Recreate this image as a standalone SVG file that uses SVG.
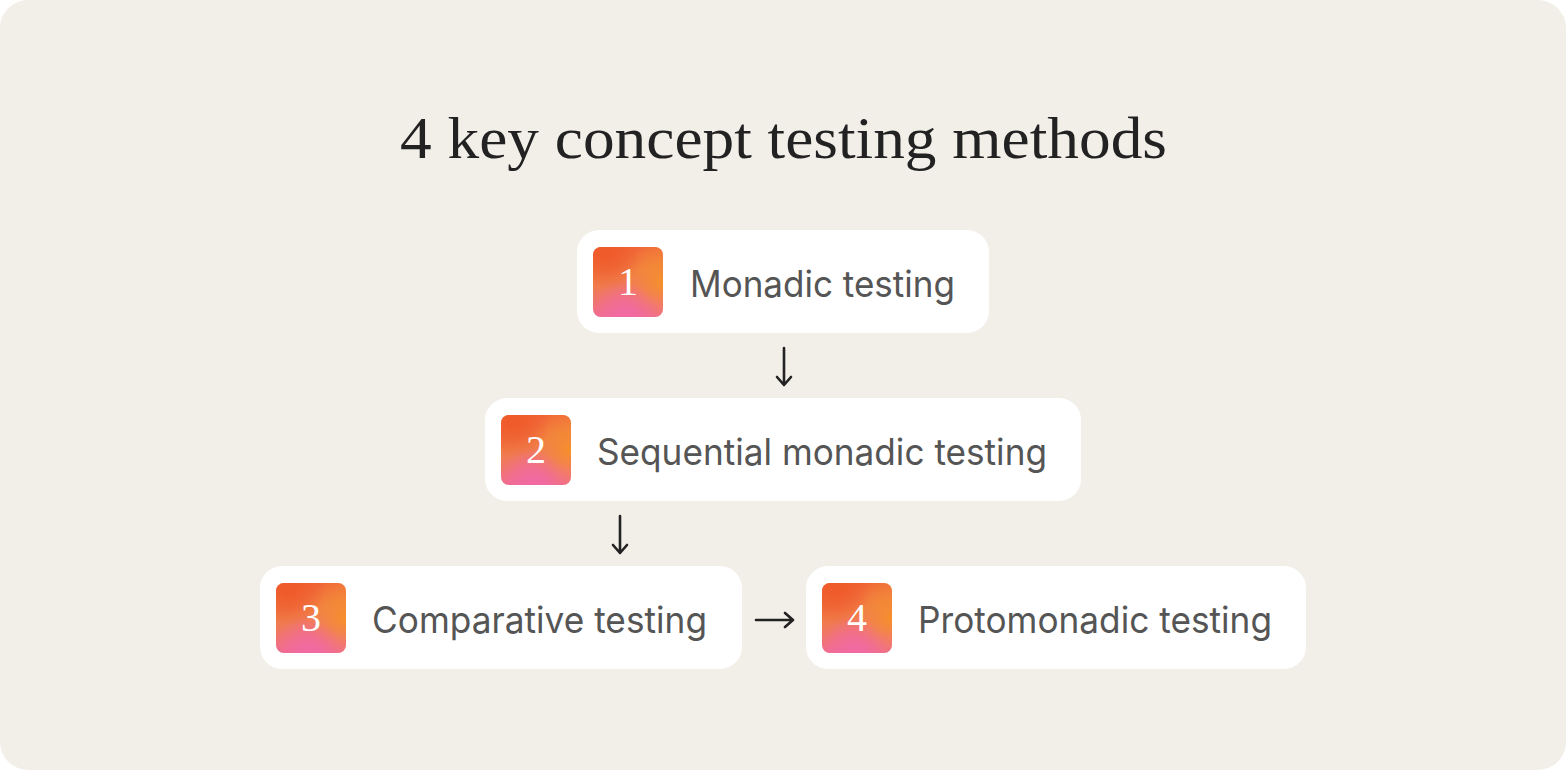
<svg xmlns="http://www.w3.org/2000/svg" width="1566" height="770" viewBox="0 0 1566 770">
<style>
.card{fill:#ffffff}
.lbl{font-family:Inter,"Liberation Sans",sans-serif;font-size:37px;fill:#555555}
.num{font-family:"Liberation Serif","DejaVu Serif",serif;font-size:40px;fill:#ffffff;text-anchor:middle}
.title{font-family:"Liberation Serif","DejaVu Serif",serif;font-size:59px;fill:#222222}
.arr{stroke:#222222;stroke-width:2.6;fill:none;stroke-linecap:round;stroke-linejoin:round}
</style>
<defs>
<linearGradient id="gbase" x1="0" y1="0" x2="0.3" y2="1">
<stop offset="0" stop-color="#f15a2c"/>
<stop offset="0.5" stop-color="#f07d4a"/>
<stop offset="1" stop-color="#f06a98"/>
</linearGradient>
<radialGradient id="gor" cx="1" cy="0.5" r="0.6">
<stop offset="0" stop-color="#f5902a" stop-opacity="1"/>
<stop offset="1" stop-color="#f5902a" stop-opacity="0"/>
</radialGradient>
<radialGradient id="gpk" cx="0.45" cy="1" r="0.5">
<stop offset="0" stop-color="#f26aa2" stop-opacity="1"/>
<stop offset="1" stop-color="#f26aa2" stop-opacity="0"/>
</radialGradient>
<radialGradient id="grd" cx="0.2" cy="0.1" r="0.5">
<stop offset="0" stop-color="#ef5a2a" stop-opacity="1"/>
<stop offset="1" stop-color="#ef5a2a" stop-opacity="0"/>
</radialGradient>
<g id="badge">
<rect width="70" height="70" rx="8" fill="url(#gbase)"/>
<rect width="70" height="70" rx="8" fill="url(#gor)"/>
<rect width="70" height="70" rx="8" fill="url(#gpk)"/>
<rect width="70" height="70" rx="8" fill="url(#grd)"/>
</g>
</defs>
<rect x="0" y="0" width="1566" height="770" fill="#ffffff"/>
<rect x="0" y="0" width="1566" height="770" rx="28" fill="#f2efe9"/>
<text class="title" x="400" y="158" textLength="767" lengthAdjust="spacingAndGlyphs">4 key concept testing methods</text>
<g id="node1">
<rect class="card" x="577" y="230" width="412" height="103" rx="22"/>
<use href="#badge" x="593" y="247"/>
<text class="num" x="628" y="295">1</text>
<text class="lbl" x="690" y="297" textLength="265" lengthAdjust="spacingAndGlyphs">Monadic testing</text>
</g>
<g id="node2">
<rect class="card" x="485" y="398" width="596" height="103" rx="22"/>
<use href="#badge" x="501" y="415"/>
<text class="num" x="536" y="463">2</text>
<text class="lbl" x="597" y="465" textLength="450" lengthAdjust="spacingAndGlyphs">Sequential monadic testing</text>
</g>
<g id="node3">
<rect class="card" x="260" y="566" width="482" height="103" rx="22"/>
<use href="#badge" x="276" y="583"/>
<text class="num" x="311" y="631">3</text>
<text class="lbl" x="372" y="633" textLength="335" lengthAdjust="spacingAndGlyphs">Comparative testing</text>
</g>
<g id="node4">
<rect class="card" x="806" y="566" width="500" height="103" rx="22"/>
<use href="#badge" x="822" y="583"/>
<text class="num" x="857" y="631">4</text>
<text class="lbl" x="918" y="633" textLength="354" lengthAdjust="spacingAndGlyphs">Protomonadic testing</text>
</g>
<g id="connectors">
<path class="arr" d="M784 348 V385 M777 377 L784 385 L791 377"/>
<path class="arr" d="M620 516 V553 M613 545 L620 553 L627 545"/>
<path class="arr" d="M756 620 H793 M785 613 L793 620 L785 627"/>
</g>
</svg>
